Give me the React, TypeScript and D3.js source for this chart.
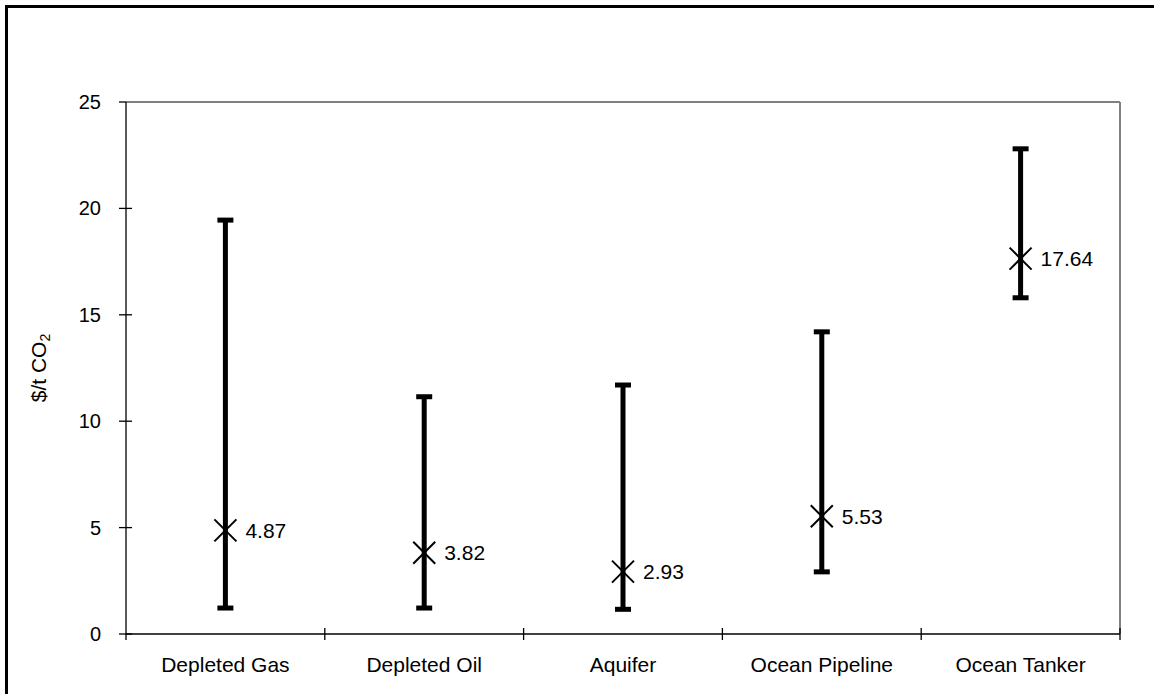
import { useEffect } from "react";
import * as d3 from "d3";

const categories = ["Depleted Gas", "Depleted Oil", "Aquifer", "Ocean Pipeline", "Ocean Tanker"];
const means = [4.87, 3.82, 2.93, 5.53, 17.64];
const lows = [1.22, 1.22, 1.16, 2.92, 15.8];
const highs = [19.45, 11.15, 11.7, 14.2, 22.8];
const yTicks = [0, 5, 10, 15, 20, 25];

const width = 1154;
const height = 694;
const margin = { top: 102, right: 34, bottom: 60, left: 126 };
const font = "Arial, 'Liberation Sans', sans-serif";

export default function App() {
  useEffect(() => {
    document.body.style.margin = "0";
  }, []);

  const x = d3
    .scaleBand<string>()
    .domain(categories)
    .range([margin.left, width - margin.right])
    .padding(0);
  const y = d3
    .scaleLinear()
    .domain([0, 25])
    .range([height - margin.bottom, margin.top]);

  const x0 = margin.left;
  const x1 = width - margin.right;
  const y0 = y(0);
  const yTop = y(25);
  const capW = 8;
  const xm = 11; // half size of the X marker

  // band edges for the category ticks
  const edges = categories.map(c => x(c)!).concat([x1]);

  return (
    <svg width={width} height={height} style={{ display: "block" }} fontFamily={font}>
      <rect x={0} y={0} width={width} height={height} fill="#fff" />
      {/* outer frame, clipped on the right and bottom */}
      <rect x={6.5} y={6.5} width={width + 10} height={height + 10} fill="none" stroke="#000" strokeWidth={3} />

      {/* plot area border */}
      <line x1={x0} x2={x1} y1={yTop} y2={yTop} stroke="#808080" strokeWidth={2} />
      <line x1={x1} x2={x1} y1={yTop} y2={y0} stroke="#808080" strokeWidth={2} />

      {/* y axis */}
      <line x1={x0} x2={x0} y1={yTop} y2={y0} stroke="#000" strokeWidth={1.3} />
      {yTicks.map(t => (
        <g key={t}>
          <line x1={x0 - 7} x2={x0 + (t === 25 ? 0 : 6)} y1={y(t)} y2={y(t)} stroke="#000" strokeWidth={1.3} />
          <text x={x0 - 25} y={y(t)} dy="0.35em" textAnchor="end" fontSize={20}>
            {t}
          </text>
        </g>
      ))}
      <text
        transform={`translate(${46},${(yTop + y0) / 2}) rotate(-90)`}
        textAnchor="middle"
        fontSize={21}
      >
        $/t CO<tspan fontSize={14} dy={4}>2</tspan>
      </text>

      {/* x axis */}
      <line x1={x0} x2={x1} y1={y0} y2={y0} stroke="#000" strokeWidth={1.5} />
      {edges.map((e, i) => (
        <line key={i} x1={e} x2={e} y1={y0 - (i === 0 ? 0 : 6)} y2={y0 + 6} stroke="#000" strokeWidth={1.3} />
      ))}
      {categories.map(c => (
        <text key={c} x={x(c)! + x.bandwidth() / 2} y={y0 + 38} textAnchor="middle" fontSize={21}>
          {c}
        </text>
      ))}

      {/* range bars with mean markers */}
      {categories.map((c, i) => {
        const cx = x(c)! + x.bandwidth() / 2;
        const cy = y(means[i]);
        return (
          <g key={c}>
            <line x1={cx} x2={cx} y1={y(lows[i])} y2={y(highs[i])} stroke="#000" strokeWidth={5} />
            <line x1={cx - capW} x2={cx + capW} y1={y(highs[i])} y2={y(highs[i])} stroke="#000" strokeWidth={5} />
            <line x1={cx - capW} x2={cx + capW} y1={y(lows[i])} y2={y(lows[i])} stroke="#000" strokeWidth={5} />
            <line x1={cx - xm} x2={cx + xm} y1={cy - xm} y2={cy + xm} stroke="#000" strokeWidth={2} />
            <line x1={cx - xm} x2={cx + xm} y1={cy + xm} y2={cy - xm} stroke="#000" strokeWidth={2} />
            <text x={cx + 20} y={cy} dy="0.35em" fontSize={21}>
              {means[i].toFixed(2)}
            </text>
          </g>
        );
      })}
    </svg>
  );
}
